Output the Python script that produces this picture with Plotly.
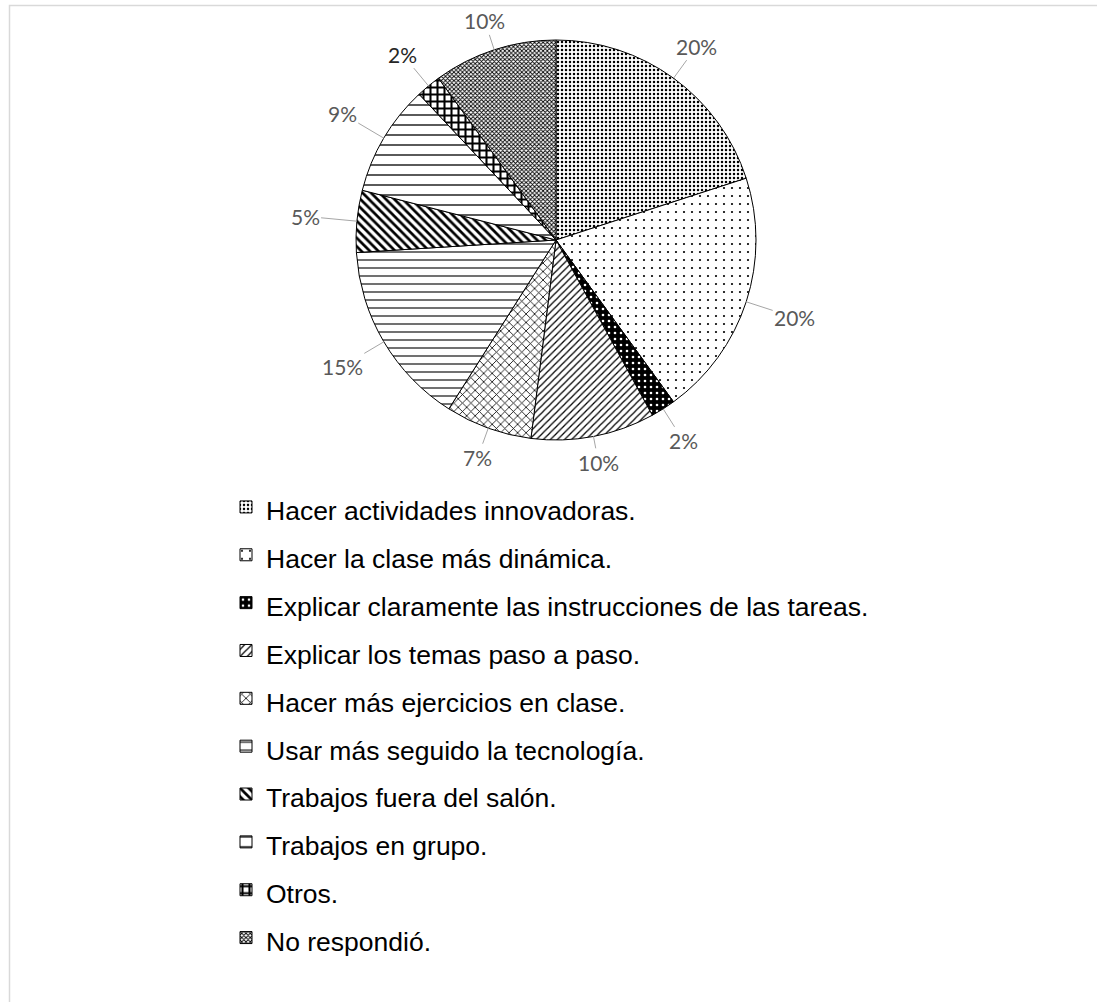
import math
import plotly.graph_objects as go

# ---------------- data ----------------
categories = [
    "Hacer actividades innovadoras.",
    "Hacer la clase más dinámica.",
    "Explicar claramente las instrucciones de las tareas.",
    "Explicar los temas paso a paso.",
    "Hacer más ejercicios en clase.",
    "Usar más seguido la tecnología.",
    "Trabajos fuera del salón.",
    "Trabajos en grupo.",
    "Otros.",
    "No respondió.",
]
percent_values = [20, 20, 2, 10, 7, 15, 5, 9, 2, 10]

# ---------------- styles ----------------
pattern_shapes = [".", ".", ".", "/", "x", "-", "\\", "-", "+", "x"]
pattern_sizes = [4, 8, 6, 5, 6, 8, 6, 10, 7, 3]
pattern_solidity = [0.3, 0.06, 0.15, 0.25, 0.25, 0.14, 0.45, 0.13, 0.5, 0.5]
pattern_fg = ["black", "black", "white", "black", "black", "black", "black", "black", "black", "black"]
pattern_bg = ["white", "white", "black", "white", "white", "white", "white", "white", "white", "white"]
label_colors = ["#595959"] * 8 + ["#262626", "#595959"]

W, H = 1097, 1002
CX, CY, R = 556, 240, 200  # pie centre / radius in pixels

fig = go.Figure()
fig.add_trace(go.Pie(
    labels=[f'<span style="font-size:26.5px">{c}</span>' for c in categories],
    values=percent_values,
    sort=False,
    direction="clockwise",
    rotation=0,
    textinfo="none",
    hoverinfo="label+percent",
    marker=dict(
        colors=["white"] * len(categories),
        line=dict(color="black", width=1),
        pattern=dict(
            shape=pattern_shapes,
            size=pattern_sizes,
            solidity=pattern_solidity,
            fgcolor=pattern_fg,
            bgcolor=pattern_bg,
            fillmode="replace",
        ),
    ),
    domain=dict(x=[(CX - R) / W, (CX + R) / W], y=[1 - (CY + R) / H, 1 - (CY - R) / H]),
))

# percentage labels with leader lines, positioned from the data
total = sum(percent_values)
cum = 0.0
annotations = []
for v, col in zip(percent_values, label_colors):
    mid = (cum + v / 2) / total * 2 * math.pi
    cum += v
    s, c = math.sin(mid), math.cos(mid)
    px = CX + R * s
    py = CY - R * c
    L = 18 + 34 * abs(s) + 2 * abs(c)
    annotations.append(dict(
        x=px / W, y=1 - py / H, xref="paper", yref="paper",
        text=f"{v / total:.0%}",
        showarrow=True, arrowhead=0, arrowwidth=1, arrowcolor="#a6a6a6",
        ax=L * s, ay=-L * c,
        font=dict(family="Lato, Carlito, sans-serif", size=21, color=col),
    ))

fig.update_layout(
    width=W, height=H,
    margin=dict(l=0, r=0, t=0, b=0, autoexpand=False),
    paper_bgcolor="white",
    plot_bgcolor="white",
    showlegend=True,
    legend=dict(
        x=226 / W, y=1 - 478 / H, xanchor="left", yanchor="top",
        font=dict(family="Liberation Sans, Arial, sans-serif", size=34.5, color="black"),
        bgcolor="rgba(0,0,0,0)",
        orientation="v",
    ),
    annotations=annotations,
    shapes=[dict(
        type="rect", xref="paper", yref="paper",
        x0=9.5 / W, x1=1.05, y0=-0.05, y1=1 - 5.5 / H,
        line=dict(color="#d9d9d9", width=1.5), fillcolor="rgba(0,0,0,0)",
    )],
)

fig.write_html(
    "out.html",
    config={"displayModeBar": False},
    post_script="document.body.style.margin='0';",
)
